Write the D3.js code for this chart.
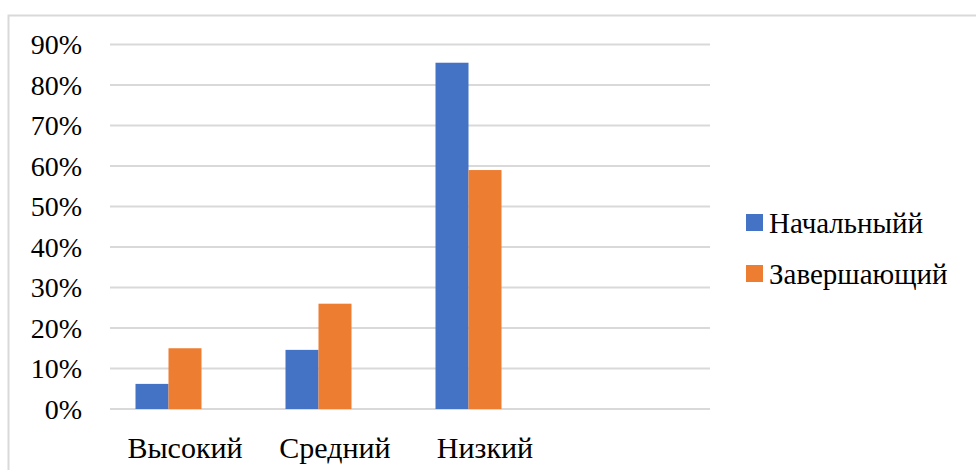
<!DOCTYPE html>
<html>
<head>
<meta charset="utf-8">
<script src="https://d3js.org/d3.v7.min.js"></script>
</head>
<body style="margin:0">
<svg id="chart" width="976" height="470"></svg>
<script>
// data
let categories = ['Высокий', 'Средний', 'Низкий', '']
let seriesNames = ['Начальныйй', 'Завершающий', '']
let nachalny = [0.062, 0.146, 0.855, null]
let zavershayushchy = [0.15, 0.26, 0.59, null]
let third = [null, null, null, null]
let yTicks = [0, 0.1, 0.2, 0.3, 0.4, 0.5, 0.6, 0.7, 0.8, 0.9]
let colors = ['#4472C4', '#ED7D31', 'none']

let fontName = '"Liberation Serif", "Times New Roman", serif'
let svg = d3.select('#chart')

// outer frame
svg.append('rect')
    .attr('x', 8.5).attr('y', 15.5)
    .attr('width', 1000).attr('height', 500)
    .attr('fill', 'none')
    .attr('stroke', '#D9D9D9')
    .attr('stroke-width', 2)

let x = d3.scaleBand()
    .domain(categories)
    .range([110, 710])
    .paddingInner(0.34)
    .paddingOuter(0.17)

let xs = d3.scaleBand()
    .domain(d3.range(seriesNames.length))
    .range([0, x.bandwidth()])

let y = d3.scaleLinear()
    .domain([0, 0.9])
    .range([409, 44.5])

// grid lines
svg.append('g')
    .selectAll('line')
    .data(yTicks)
    .enter()
    .append('line')
    .attr('x1', 110).attr('x2', 710)
    .attr('y1', d => y(d)).attr('y2', d => y(d))
    .attr('stroke', '#D9D9D9')
    .attr('stroke-width', 2)

// y labels
let fmt = d3.format('.0%')
svg.append('g')
    .selectAll('text')
    .data(yTicks)
    .enter()
    .append('text')
    .attr('x', 82)
    .attr('y', d => y(d))
    .attr('dy', '0.34em')
    .attr('text-anchor', 'end')
    .style('font-family', fontName, 'important')
    .style('font-size', '28px')
    .text(d => fmt(d))

// x labels
svg.append('g')
    .selectAll('text')
    .data(categories)
    .enter()
    .append('text')
    .attr('x', d => x(d) + x.bandwidth() / 2)
    .attr('y', 458)
    .attr('text-anchor', 'middle')
    .style('font-family', fontName, 'important')
    .style('font-size', '30px')
    .text(d => d)

// bars
let series = [nachalny, zavershayushchy, third]
series.forEach(function(vals, s) {
    svg.append('g')
        .selectAll('rect')
        .data(vals.map((v, i) => ({ cat: categories[i], v: v })).filter(d => d.v != null))
        .enter()
        .append('rect')
        .attr('x', d => x(d.cat) + xs(s))
        .attr('width', xs.bandwidth())
        .attr('y', d => y(d.v))
        .attr('height', d => y(0) - y(d.v))
        .attr('fill', colors[s])
})

// legend
let legend = svg.append('g')
    .selectAll('g')
    .data(seriesNames.slice(0, 2))
    .enter()
    .append('g')
    .attr('transform', (d, i) => 'translate(746,' + (214 + i * 51) + ')')

legend.append('rect')
    .attr('width', 17).attr('height', 17)
    .attr('fill', (d, i) => colors[i])

legend.append('text')
    .attr('x', 23).attr('y', 19)
    .style('font-family', fontName, 'important')
    .style('font-size', '29px')
    .text(d => d)
</script>
</body>
</html>
